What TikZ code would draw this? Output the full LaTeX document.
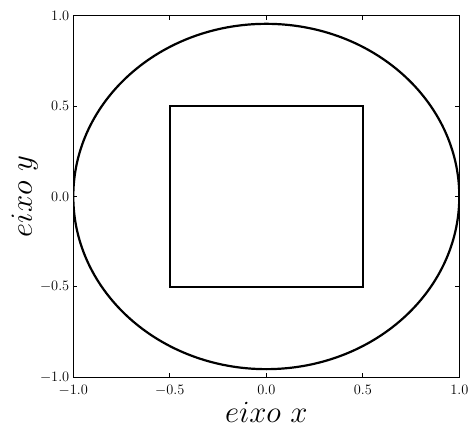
\documentclass[tikz,border=0pt]{standalone}

\begin{document}
\begin{tikzpicture}[
  x=193pt, y=180.8pt,
  frame/.style={draw, line width=1pt},
  curve/.style={draw, line width=2.2pt},
  ticklabel/.style={inner sep=0pt, font=\fontsize{14}{16}\selectfont},
  axislabel/.style={inner sep=0pt, font=\Huge, scale=1.24, transform shape}]
\useasboundingbox (-1.3798,-1.3025) rectangle (1.0451,1.0868);
\begin{scope}
  \clip (-1,-1) rectangle (1,1);
  \path[curve] (0,0) ellipse [x radius=1, y radius=0.955];
  \path[curve] (-0.5,-0.5) rectangle (0.5,0.5);
\end{scope}
\path[frame] (-1,-1) rectangle (1,1);
\foreach \t/\lbl in {-1/-1.0, -0.5/-0.5, 0/0.0, 0.5/0.5, 1/1.0} {
  \draw[line width=0.8pt] (\t,-1) -- ++(0,0.022);
  \draw[line width=0.8pt] (\t,1) -- ++(0,-0.022);
  \draw[line width=0.8pt] (-1,\t) -- ++(0.021,0);
  \draw[line width=0.8pt] (1,\t) -- ++(-0.021,0);
  \node[ticklabel, anchor=north] (xt\t) at (\t,-1.044) {$\lbl$};
  \node[ticklabel, anchor=east] (yt\t) at (-1.02,\t) {$\lbl$};
}
\node[axislabel, anchor=base] (xlabel) at (0,-1.2528) {$eixo\ x$};
\node[axislabel, anchor=base, rotate=90] (ylabel) at (-1.214,0) {$eixo\ y$};
\end{tikzpicture}
\end{document}
